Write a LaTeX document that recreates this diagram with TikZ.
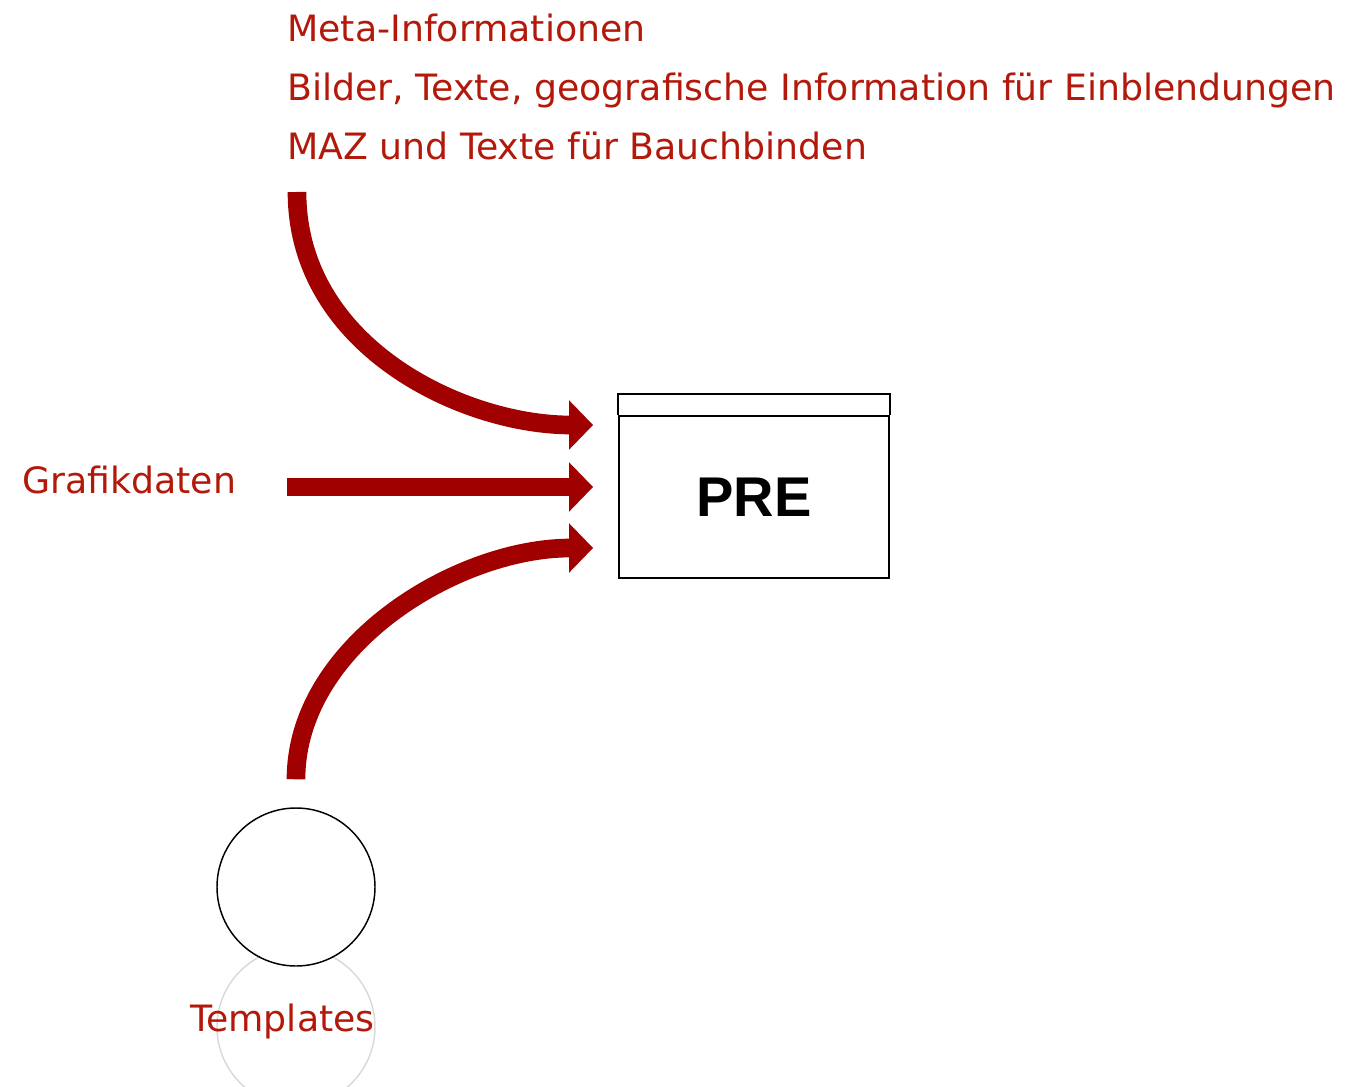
\documentclass[tikz,border=0pt]{standalone}
\usepackage{fontspec}
\setmainfont{DejaVu Sans}
\newfontfamily\boxfont{Liberation Sans}
\usetikzlibrary{arrows.meta,positioning}
\definecolor{labelred}{rgb}{0.70, 0.10, 0.04}
\definecolor{flowred}{rgb}{0.63, 0.0, 0.0}
\tikzset {
        inlabel/.style={anchor=base west, inner sep=0pt, text=labelred, font=\fontsize{27.2}{32}\selectfont},
        flow/.style={color=flowred, line width=14pt, -{Triangle[length=18pt,width=36pt]}},
        procbox/.style={rectangle, draw, line width=1.4pt, minimum width=202.5pt, minimum height=121.5pt, inner sep=0pt, font=\boxfont\bfseries\fontsize{42}{48}\selectfont},
        store/.style={circle, draw, line width=1.1pt, fill=white, minimum size=118.5pt, inner sep=0pt},
        mirror/.style={draw=black!15, line width=1.1pt}
}
\begin{document}
\begin{tikzpicture}[x=0.75pt, y=-0.75pt]
            \useasboundingbox (0,0) rectangle (1348,1087);

            \node[procbox] (Pre) at (754,497) {PRE};
            \draw[line width=1.4pt] (Pre.north west) -- ++(0,-21) -- ([yshift=15.75pt]Pre.north east) -- (Pre.north east);

            \node[inlabel] (MetaInfo) at (287,42) {Meta-Informationen};
            \node[inlabel] (ImageInfo) at ([yshift=-44.25pt]MetaInfo.base west) {Bilder, Texte, geografische Information für Einblendungen};
            \node[inlabel] (LowerThirds) at ([yshift=-44.25pt]ImageInfo.base west) {MAZ und Texte für Bauchbinden};
            \node[inlabel] (Grafik) at (22,493) {Grafikdaten};

            % reflection under the store
            \draw[mirror] (296,1027) circle (59.25pt);
            \node[store] (TemplStore) at (296,887) {};
            \node[inlabel] (TemplLabel) at (190,1031) {Templates};

            \coordinate (MetaStart) at (297,192);
            \coordinate (GrafikStart) at (287,487);

            \draw[flow, shorten >=18.75pt] (MetaStart) to [out=-90, in=180] ([yshift=54pt]Pre.west);
            \draw[flow, shorten >=18.75pt] (GrafikStart) -- ([yshift=7.5pt]Pre.west);
            \draw[flow, shorten <=21pt, shorten >=18.75pt] (TemplStore.north) to [out=90, in=180] ([yshift=-38.25pt]Pre.west);
\end{tikzpicture}
\end{document}
